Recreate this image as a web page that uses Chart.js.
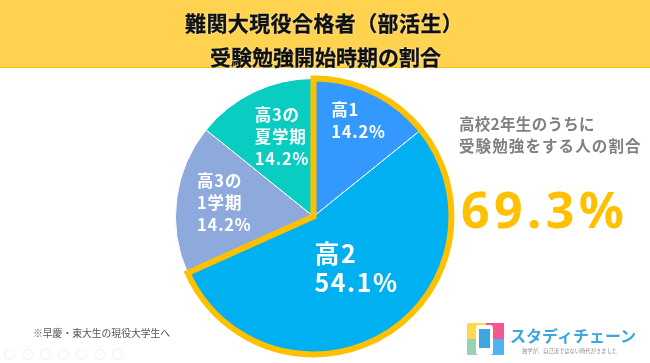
<!DOCTYPE html>
<html lang="ja">
<head>
<meta charset="utf-8">
<script src="https://cdn.jsdelivr.net/npm/chart.js@4"></script>
<style>
    html, body { margin: 0; padding: 0; background: #fff; }
    body { width: 650px; height: 363px; overflow: hidden; position: relative; font-family: "Noto Sans CJK JP", sans-serif; }
    #band { position: absolute; left: 0; top: 0; width: 650px; height: 67px; background: #FFD34F; border-bottom: 1px solid #FFC000; }
    .title { position: absolute; font-size: 21px; line-height: 26px; font-weight: 700; color: #111; -webkit-text-stroke: 0.3px #111; text-shadow: 0 0 2px #fff; white-space: nowrap; }
    canvas { position: absolute; left: 0; top: 0; }
    .side { position: absolute; left: 459px; font-size: 15.5px; line-height: 20px; font-weight: 700; color: #808080; white-space: nowrap; }
    #big { position: absolute; left: 461px; top: 174px; font-size: 50px; line-height: 70px; font-weight: 700; color: #FFC000; letter-spacing: 4.5px; font-family: "Noto Sans", sans-serif; white-space: nowrap; }
    #note { position: absolute; left: 33px; top: 326px; font-size: 9.8px; line-height: 14px; color: #555; white-space: nowrap; }
    .ctl { position: absolute; top: 349px; width: 9px; height: 9px; border: 1px solid #eee; border-radius: 50%; }
    #logo { position: absolute; left: 467px; top: 323px; width: 37px; height: 32px; display: grid; grid-template-columns: 1fr 1fr; grid-template-rows: 1fr 1fr; }
    #phone { position: absolute; left: 476px; top: 325px; width: 17px; height: 30px; background: #fff; border-radius: 3px; }
    #screen { position: absolute; left: 479px; top: 329px; width: 11px; height: 19px; background: #3DA5E0; }
    #brand { position: absolute; left: 510px; top: 322px; font-size: 16px; line-height: 26px; font-weight: 700; color: #3DA5E0; white-space: nowrap; }
    #tag { position: absolute; left: 522px; top: 347px; font-size: 5.3px; line-height: 8px; color: #888; white-space: nowrap; }
</style>
</head>
<body>
<div id="band"></div>
<canvas id="PieChart" width="650" height="363"></canvas>
<div class="title" style="top:9px;left:185px;letter-spacing:0.4px">難関大現役合格者（部活生）</div>
<div class="title" style="top:43px;left:210px">受験勉強開始時期の割合</div>
<div class="side" style="top:113px;letter-spacing:0.3px">高校2年生のうちに</div>
<div class="side" style="top:135px;letter-spacing:1.1px">受験勉強をする人の割合</div>
<div id="big">69.3%</div>
<div id="note">※早慶・東大生の現役大学生へ</div>
<span class="ctl" style="left:4px"></span><span class="ctl" style="left:22px"></span><span class="ctl" style="left:40px"></span><span class="ctl" style="left:58px"></span><span class="ctl" style="left:76px"></span><span class="ctl" style="left:94px"></span><span class="ctl" style="left:112px"></span>
<div id="logo">
    <div style="background:#FFD84D"></div><div style="background:#F4578F"></div>
    <div style="background:#9CD0B4"></div><div style="background:#4FB4EE"></div>
</div>
<div id="phone"></div><div id="screen"></div>
<div id="brand">スタディチェーン</div>
<div id="tag">独学が、自己流ではない時代がきました</div>
<script>
const categories = ['高1', '高2', '高3の\n1学期', '高3の\n夏学期'];
const sliceValues = [14.2, 54.1, 17.5, 14.2];   // slice sizes as drawn
const shownValues = ['14.2%', '54.1%', '14.2%', '14.2%'];  // text printed on the slices
const sliceColors = ['#3399FF', '#00B0F0', '#8EA9DB', '#09CDC0'];

// label placement, offset from the slice's own centre point
const labelOffsets = [[-12, -45], [-35, -22], [-48, -27], [-29, -40]];
const labelFonts = [16.5, 25, 16.5, 16.5];
const labelGaps = [22, 29, 22, 22];
const labelSpacing = ['0.8px', '1.5px', '0.8px', '0.8px'];

// white text on each slice
const sliceLabels = {
    id: 'sliceLabels',
    afterDatasetsDraw(chart) {
        const ctx = chart.ctx;
        chart.getDatasetMeta(0).data.forEach((arc, i) => {
            const c = arc.tooltipPosition();
            const lines = categories[i].split('\n').concat(shownValues[i]);
            ctx.save();
            ctx.fillStyle = '#fff';
            ctx.textAlign = 'left';
            ctx.textBaseline = 'middle';
            ctx.letterSpacing = labelSpacing[i];
            ctx.font = `700 ${labelFonts[i]}px "Noto Sans CJK JP", sans-serif`;
            lines.forEach((line, n) => {
                ctx.fillText(line, c.x + labelOffsets[i][0], c.y + labelOffsets[i][1] + n * labelGaps[i]);
            });
            ctx.restore();
        });
    }
};

// gold outline round the first two slices (高1 + 高2)
const goldOutline = {
    id: 'goldOutline',
    afterDatasetsDraw(chart) {
        const arcs = chart.getDatasetMeta(0).data;
        const a = arcs[0], b = arcs[1];
        const ctx = chart.ctx;
        ctx.save();
        ctx.beginPath();
        ctx.moveTo(a.x, a.y);
        ctx.arc(a.x, a.y, a.outerRadius, a.startAngle, b.endAngle);
        ctx.closePath();
        ctx.strokeStyle = '#FFC000';
        ctx.lineWidth = 6;
        ctx.lineJoin = 'miter';
        ctx.stroke();
        ctx.restore();
    }
};

const ctx = document.getElementById('PieChart').getContext('2d');
new Chart(ctx, {
    type: 'pie',
    data: {
        labels: categories,
        datasets: [{
            data: sliceValues,
            backgroundColor: sliceColors,
            borderColor: '#fff',
            borderWidth: 1,
            radius: 138
        }]
    },
    options: {
        responsive: false,
        animation: false,
        layout: { padding: { left: 0, right: 23, top: 70, bottom: 0 } },
        plugins: {
            legend: { display: false },
            tooltip: { enabled: false }
        }
    },
    plugins: [goldOutline, sliceLabels]
});
</script>
</body>
</html>
